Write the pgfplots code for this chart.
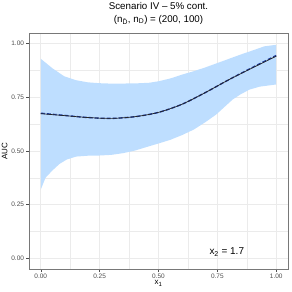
\documentclass[border=0pt]{standalone}
\usepackage{pgfplots}
\pgfplotsset{compat=1.18}
\usepackage{fontspec}
\setmainfont{Liberation Sans}
\definecolor{bandblue}{RGB}{190,222,255}
\definecolor{lineblue}{RGB}{30,60,160}
\definecolor{gridgray}{RGB}{235,235,235}
\definecolor{tickgray}{RGB}{77,77,77}
\definecolor{framegray}{RGB}{120,120,120}
\begin{document}
\begin{tikzpicture}
\begin{axis}[
  scale only axis,
  width=259bp, height=236bp,
  xmin=-0.05, xmax=1.05, ymin=-0.05, ymax=1.05,
  xtick={0,0.25,0.5,0.75,1}, ytick={0,0.25,0.5,0.75,1},
  xticklabels={0.00,0.25,0.50,0.75,1.00},
  yticklabels={0.00,0.25,0.50,0.75,1.00},
  minor xtick={0.125,0.375,0.625,0.875},
  minor ytick={0.125,0.375,0.625,0.875},
  grid=both,
  major grid style={gridgray, line width=0.6bp},
  minor grid style={gridgray, line width=0.3bp},
  axis line style={framegray, line width=0.6bp},
  tick align=outside,
  major tick length=2.5bp,
  minor tick length=0pt,
  tick style={tickgray, line width=0.5bp},
  xtick pos=bottom, ytick pos=left,
  /pgf/number format/assume math mode=true,
  ticklabel style={font=\fontsize{6.5}{7.5}\selectfont, text=tickgray},
  xticklabel style={yshift=1bp},
  yticklabel style={xshift=1bp},
  xlabel={x\textsubscript{1}}, ylabel={AUC},
  label style={font=\fontsize{8}{9}\selectfont},
  xlabel style={yshift=5bp},
  ylabel style={yshift=-3bp},
  title={Scenario IV -- 5\% cont.\\[1bp](n\textsubscript{D\char"0304}, n\textsubscript{D}) = (200, 100)},
  title style={font=\fontsize{9.8}{12}\selectfont, align=center, yshift=-1bp},
  clip=false,
]
\addplot[fill=bandblue, draw=none] coordinates {
(0,0.93) (0.05,0.885) (0.10,0.848) (0.15,0.83) (0.20,0.82) (0.25,0.816)
(0.30,0.814) (0.40,0.815) (0.46,0.818) (0.50,0.825) (0.55,0.838) (0.60,0.856)
(0.65,0.872) (0.70,0.89) (0.75,0.91) (0.80,0.93) (0.85,0.95) (0.89,0.965)
(0.95,0.988) (1.00,0.995)
(1.00,0.81) (0.93,0.80) (0.886,0.786) (0.85,0.765) (0.815,0.74) (0.78,0.705)
(0.745,0.67) (0.70,0.635) (0.65,0.60) (0.60,0.574) (0.55,0.552) (0.50,0.535)
(0.46,0.522) (0.40,0.502) (0.35,0.49) (0.30,0.482) (0.25,0.479) (0.20,0.478)
(0.15,0.474) (0.11,0.46) (0.08,0.44) (0.05,0.41) (0.02,0.375) (0,0.32)
} -- cycle;
\addplot[lineblue, line width=1.4bp, dash pattern=on 4bp off 2bp, smooth] coordinates {
(0,0.676) (0.1,0.666) (0.2,0.656) (0.3,0.652) (0.4,0.66) (0.5,0.68)
(0.6,0.718) (0.7,0.773) (0.8,0.833) (0.9,0.89) (1.0,0.945)
};
\addplot[black!85, line width=0.7bp, smooth] coordinates {
(0,0.674) (0.1,0.665) (0.2,0.656) (0.3,0.652) (0.4,0.66) (0.5,0.68)
(0.6,0.718) (0.7,0.773) (0.8,0.833) (0.9,0.888) (1.0,0.942)
};
\node[font=\fontsize{10}{12}\selectfont] at (axis cs:0.79,0.03) {x\textsubscript{2} = 1.7};
\end{axis}
\pgfresetboundingbox
\path ([shift={(-29bp,-23bp)}]current axis.south west) rectangle ([shift={(4bp,33bp)}]current axis.north east);
\end{tikzpicture}
\end{document}
